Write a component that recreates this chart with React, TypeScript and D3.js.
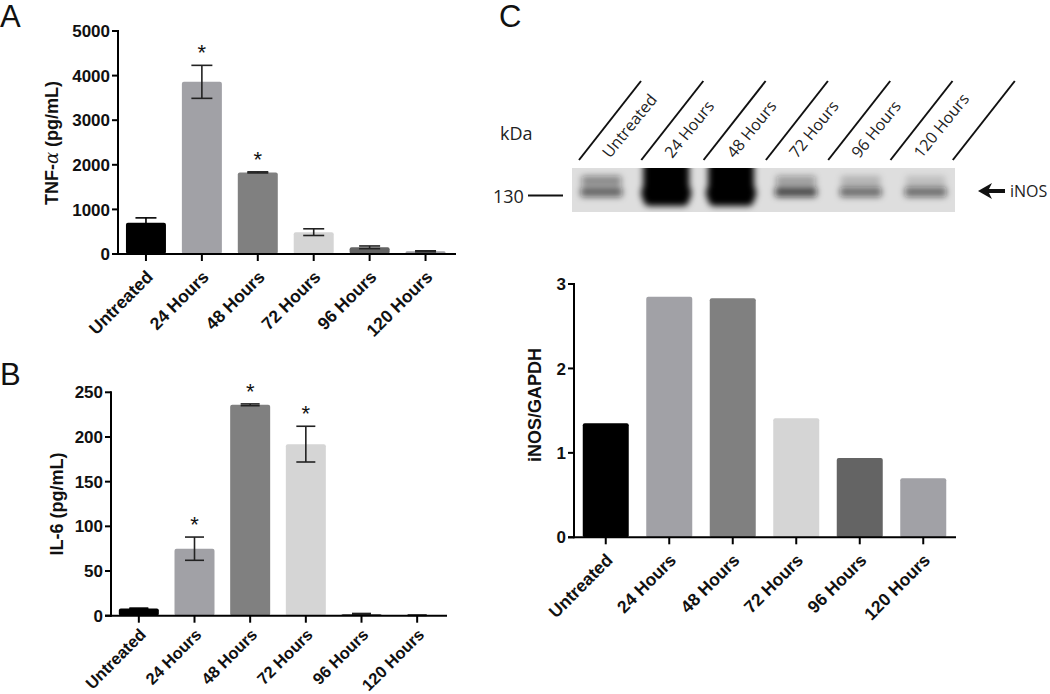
import React from "react";
import * as d3 from "d3";

const categories = ["Untreated", "24 Hours", "48 Hours", "72 Hours", "96 Hours", "120 Hours"];
const barColors = ["#000000", "#a1a1a6", "#808080", "#d5d5d5", "#646464", "#a1a1a6"];

const tnfMean = [700, 3860, 1830, 490, 150, 60];
const tnfSem = [110, 370, 12, 75, 30, 12];
const tnfSig = [false, true, true, false, false, false];
const tnfTicks = [0, 1000, 2000, 3000, 4000, 5000];

const il6Mean = [8, 75, 236, 192, 2, 0.5];
const il6Sem = [0.5, 13, 1, 20, 0.5, 0.2];
const il6Sig = [false, true, true, true, false, false];
const il6Ticks = [0, 50, 100, 150, 200, 250];

const inosRatio = [1.35, 2.85, 2.83, 1.41, 0.94, 0.7];
const inosTicks = [0, 1, 2, 3];

const blotLower = [0.7, 1, 1, 0.85, 0.65, 0.65];
const blotUpper = [0.45, 1, 1, 0.35, 0.2, 0.15];

const FONT = "'Liberation Sans', Arial, sans-serif";
const THIN = "'Open Sans', 'Noto Sans', sans-serif";

type PanelProps = {
  x0: number; x1: number; axisEnd: number; yBottom: number; yTop: number; max: number;
  ticks: number[]; means: number[]; sems?: number[]; sig?: boolean[]; barWidth: number;
  title: React.ReactNode; titleX: number; titleY: number; capWidth?: number;
  labelSize?: number; labelDy?: number;
};

function BarPanel(p: PanelProps) {
  const x = d3.scaleBand<string>().domain(categories).range([p.x0, p.x1]).padding(0);
  const y = d3.scaleLinear().domain([0, p.max]).range([p.yBottom, p.yTop]);
  const cap = p.capWidth ?? 20;
  const ls = p.labelSize ?? 17.5;
  const ldy = p.labelDy ?? 24;
  return (
    <g>
      {categories.map((c, i) => {
        const cx = (x(c) as number) + x.bandwidth() / 2;
        const top = y(p.means[i]);
        const h = Math.max(0, p.yBottom - top);
        return (
          <rect key={"b" + c} x={cx - p.barWidth / 2} y={top} width={p.barWidth} height={h}
            rx={2} fill={barColors[i]} />
        );
      })}
      {p.sems && categories.map((c, i) => {
        const cx = (x(c) as number) + x.bandwidth() / 2;
        const hi = y(p.means[i] + p.sems![i]);
        const lo = y(Math.max(0, p.means[i] - p.sems![i]));
        const col = i === 0 ? "#000" : "#222";
        return (
          <g key={"e" + c} stroke={col} strokeWidth={1.6}>
            <line x1={cx} x2={cx} y1={hi} y2={lo} />
            <line x1={cx - cap / 2} x2={cx + cap / 2} y1={hi} y2={hi} />
            <line x1={cx - cap / 2} x2={cx + cap / 2} y1={lo} y2={lo} />
          </g>
        );
      })}
      {p.sig && categories.map((c, i) => {
        if (!p.sig![i]) return null;
        const cx = (x(c) as number) + x.bandwidth() / 2;
        const hi = y(p.means[i] + (p.sems ? p.sems[i] : 0));
        return (
          <text key={"s" + c} x={cx} y={hi - 5} textAnchor="middle" fontFamily={FONT}
            fontSize={22} fill="#111">*</text>
        );
      })}
      {/* y axis */}
      <line x1={p.x0} x2={p.x0} y1={p.yTop - 1} y2={p.yBottom + 1} stroke="#000" strokeWidth={2} />
      {p.ticks.map((t) => (
        <g key={"t" + t}>
          <line x1={p.x0 - 6} x2={p.x0} y1={y(t)} y2={y(t)} stroke="#000" strokeWidth={2} />
          <text x={p.x0 - 8} y={y(t)} dy="0.36em" textAnchor="end" fontFamily={FONT}
            fontWeight="bold" fontSize={17} fill="#111">{t}</text>
        </g>
      ))}
      {/* x axis */}
      <line x1={p.x0 - 6} x2={p.axisEnd} y1={p.yBottom} y2={p.yBottom} stroke="#000" strokeWidth={2} />
      {categories.map((c) => {
        const cx = (x(c) as number) + x.bandwidth() / 2;
        return (
          <g key={"x" + c}>
            <line x1={cx} x2={cx} y1={p.yBottom} y2={p.yBottom + 7} stroke="#000" strokeWidth={2} />
            <text transform={`translate(${cx + 8},${p.yBottom + ldy}) rotate(-45)`} textAnchor="end"
              fontFamily={FONT} fontWeight="bold" fontSize={ls} fill="#111">{c}</text>
          </g>
        );
      })}
      <text transform={`translate(${p.titleX},${p.titleY}) rotate(-90)`} dy="0.36em" textAnchor="middle"
        fontFamily={FONT} fontWeight="bold" fontSize={18} fill="#111">{p.title}</text>
    </g>
  );
}

function Blot() {
  const bx0 = 572, bx1 = 955, by0 = 168, by1 = 212;
  const lane = d3.scaleBand<string>().domain(categories).range([569, 958]);
  const step = 62.3;
  const lineBase = d3.range(7).map((i) => 579 + i * step);
  return (
    <g>
      <defs>
        <filter id="blur" x="-30%" y="-60%" width="160%" height="220%">
          <feGaussianBlur stdDeviation="3" />
        </filter>
        <clipPath id="blotClip">
          <rect x={bx0} y={by0} width={bx1 - bx0} height={by1 - by0} />
        </clipPath>
      </defs>
      <rect x={bx0} y={by0} width={bx1 - bx0} height={by1 - by0} fill="#dedede" />
      <g clipPath="url(#blotClip)">
        {categories.map((c, i) => {
          const cx = (lane(c) as number) + lane.bandwidth() / 2;
          const strong = blotUpper[i] > 0.9;
          return (
            <g key={"bl" + c} filter="url(#blur)">
              {strong ? (
                <>
                  <rect x={cx - 23} y={160} width={46} height={46} rx={6} fill="#050505" />
                  <rect x={cx - 25} y={186} width={50} height={14} rx={5} fill="#000" />
                </>
              ) : (
                <>
                  <rect x={cx - 20} y={176} width={40} height={9} rx={3} fill="#111" opacity={blotUpper[i]} />
                  <rect x={cx - 21} y={187} width={42} height={10} rx={3} fill="#111" opacity={blotLower[i] * 0.85} />
                </>
              )}
            </g>
          );
        })}
      </g>
      {lineBase.map((lx, i) => (
        <line key={"dl" + i} x1={lx} y1={160} x2={lx + 62} y2={81} stroke="#111" strokeWidth={2} />
      ))}
      {categories.map((c, i) => (
        <text key={"lab" + c} transform={`translate(${lineBase[i] + 31},${159}) rotate(-51)`}
          fontFamily={THIN} fontSize={16} fill="#222">{c}</text>
      ))}
      <text x={500} y={140} fontFamily={THIN} fontSize={18} fill="#222">kDa</text>
      <text x={493} y={203} fontFamily={THIN} fontSize={18} fill="#222">130</text>
      <line x1={528} x2={563} y1={195.5} y2={195.5} stroke="#111" strokeWidth={1.8} />
      <path d="M978,191 L992,183 L989,189 L1005,189 L1005,193 L989,193 L992,199 Z" fill="#111" />
      <text x={1010} y={197} fontFamily={THIN} fontSize={16} fill="#222">iNOS</text>
    </g>
  );
}

export default function App() {
  return (
    <svg width={1050} height={694} style={{ position: "absolute", left: 0, top: 0, background: "#fff" }}>
      <rect width={1050} height={694} fill="#fff" />
      <text x={0} y={27} fontFamily={FONT} fontSize={31} fill="#111">A</text>
      <text x={0} y={385} fontFamily={FONT} fontSize={31} fill="#111">B</text>
      <text x={499} y={27} fontFamily={FONT} fontSize={31} fill="#111">C</text>

      <BarPanel x0={118} x1={453.5} axisEnd={456} yBottom={254} yTop={31} max={5000} ticks={tnfTicks}
        means={tnfMean} sems={tnfSem} sig={tnfSig} barWidth={40} capWidth={21}
        title={<>TNF-<tspan fontFamily="'DejaVu Serif', serif" fontWeight="normal" fontStyle="italic">α</tspan> (pg/mL)</>}
        titleX={52} titleY={143} />

      <BarPanel x0={111} x1={445} axisEnd={447} yBottom={615.7} yTop={392.3} max={250} ticks={il6Ticks}
        means={il6Mean} sems={il6Sem} sig={il6Sig} barWidth={40} capWidth={19}
        labelSize={16.5} labelDy={20}
        title="IL-6 (pg/mL)" titleX={57} titleY={504} />

      <Blot />

      <BarPanel x0={574} x1={955} axisEnd={956} yBottom={537.3} yTop={284} max={3} ticks={inosTicks}
        means={inosRatio} barWidth={46} title="iNOS/GAPDH" titleX={535} titleY={405} />
    </svg>
  );
}
